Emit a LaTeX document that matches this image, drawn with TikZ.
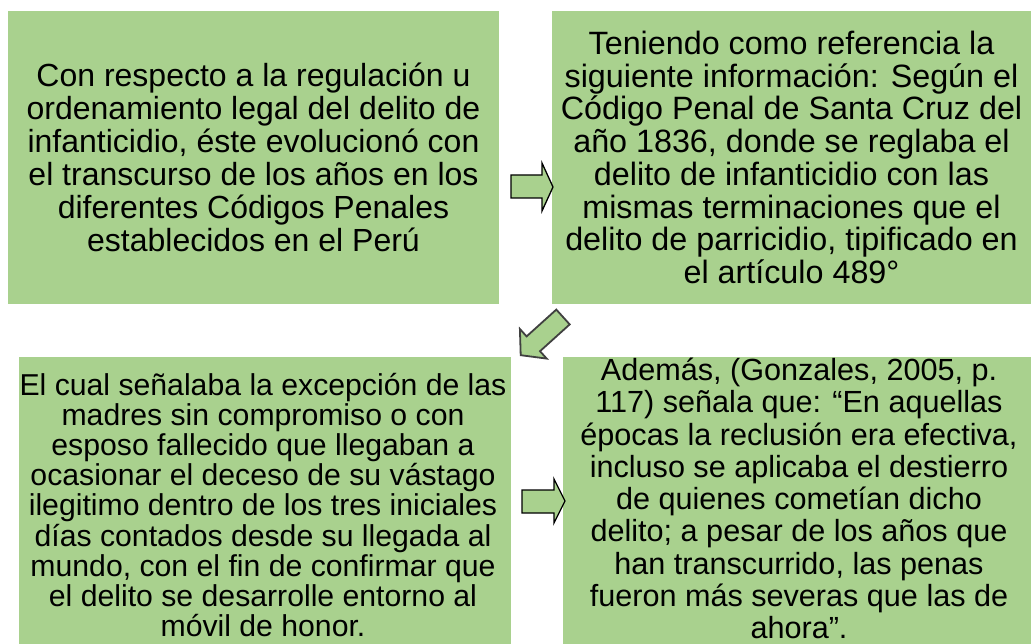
\documentclass[tikz,border=0pt]{standalone}
\usepackage{fontspec}
\setmainfont{Liberation Sans}
\definecolor{boxgreen}{HTML}{A9D18E}
\begin{document}
\begin{tikzpicture}[x=1pt,y=-1pt,
  box/.style={fill=boxgreen, draw=none, inner sep=0pt, align=center, anchor=center},
  txt/.style={inner sep=0pt, align=center, anchor=center},
  blockarrow/.style={fill=boxgreen, draw=black, line width=1.3pt, line join=miter}]
\useasboundingbox (0,0) rectangle (1031,644);
\node[box, minimum width=491pt, minimum height=293pt, font=\fontsize{32}{33}\selectfont] (b1) at (253.5,157.5)
 {Con respecto a la regulación u\\ordenamiento legal del delito de\\infanticidio, éste evolucionó con\\el transcurso de los años en los\\diferentes Códigos Penales\\establecidos en el Perú};
\node[box, minimum width=479pt, minimum height=293pt, font=\fontsize{32.3}{32.7}\selectfont] (b2) at (791.5,157.5)
 {Teniendo como referencia la\\siguiente información: Según el\\Código Penal de Santa Cruz del\\año 1836, donde se reglaba el\\delito de infanticidio con las\\mismas terminaciones que el\\delito de parricidio, tipificado en\\el artículo 489°};
\node[box, minimum width=492pt, minimum height=287pt] (b3) at (265,500.5) {};
\node[txt, font=\fontsize{30.2}{30.1}\selectfont] (t3) at (263,505)
 {El cual señalaba la excepción de las\\madres sin compromiso o con\\esposo fallecido que llegaban a\\ocasionar el deceso de su vástago\\ilegitimo dentro de los tres iniciales\\días contados desde su llegada al\\mundo, con el fin de confirmar que\\el delito se desarrolle entorno al\\móvil de honor.};
\node[box, minimum width=468pt, minimum height=287pt] (b4) at (797,500.5) {};
\node[txt, font=\fontsize{30.6}{32.25}\selectfont] (t4) at (799,498.5)
 {Además, (Gonzales, 2005, p.\\117) señala que: “En aquellas\\épocas la reclusión era efectiva,\\incluso se aplicaba el destierro\\de quienes cometían dicho\\delito; a pesar de los años que\\han transcurrido, las penas\\fueron más severas que las de\\ahora”.};
% right arrow b1 -> b2
\draw[blockarrow] (511,175) -- (542,175) -- (542,163) -- (553,187) -- (542,211) -- (542,198) -- (511,198) -- cycle;
% diagonal arrow b2 -> b3
\draw[blockarrow, draw=black!75, line width=1.8pt] (569.7,324.4) -- (540.0,351.2) -- (546.7,358.6) -- (520.7,355.2) -- (519.9,329.0) -- (526.6,336.4) -- (556.3,309.6) -- cycle;
% right arrow b3 -> b4
\draw[blockarrow] (522,490) -- (554,490) -- (554,479) -- (565,501) -- (554,523) -- (554,513) -- (522,513) -- cycle;
\end{tikzpicture}
\end{document}
